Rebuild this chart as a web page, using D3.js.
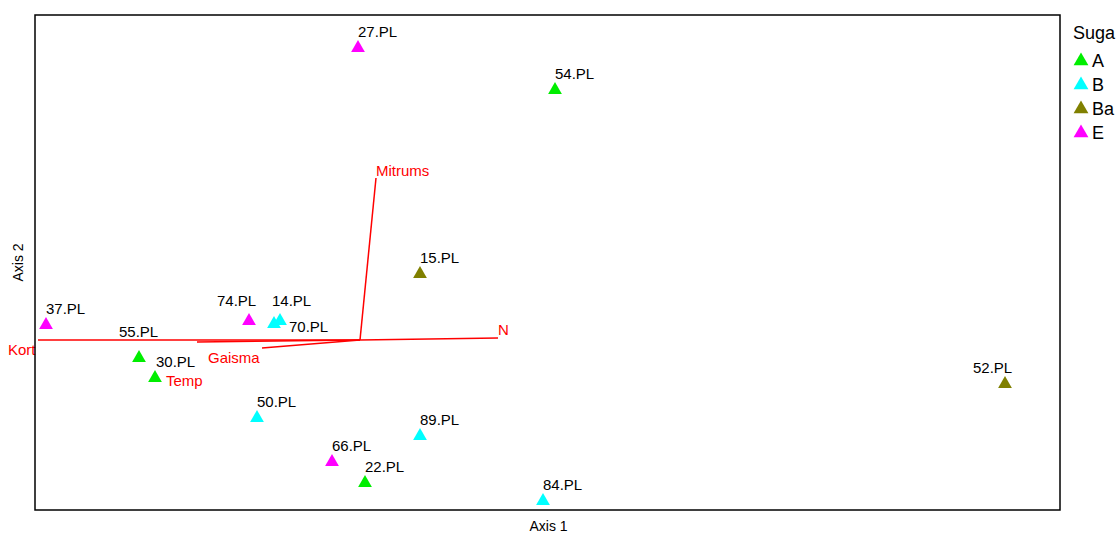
<!DOCTYPE html>
<html>
<head>
<meta charset="utf-8">
<script src="https://cdn.jsdelivr.net/npm/d3@7"></script>
<style>
  body { margin: 0; background: #fff; }
  svg { font-family: "Liberation Sans", Arial, sans-serif; }
</style>
</head>
<body>
<svg id="chart" width="1120" height="533"></svg>
<script>
// sample scores (axis 1, axis 2) and group
const sampleNames = ["27.PL", "54.PL", "15.PL", "37.PL", "74.PL", "14.PL", "70.PL", "55.PL",
                     "30.PL", "50.PL", "89.PL", "66.PL", "22.PL", "84.PL", "52.PL"];
const axis1 = [-0.004, 0.39, 0.12, -0.628, -0.222, -0.16, -0.172, -0.442,
               -0.41, -0.206, 0.12, -0.056, 0.01, 0.366, 1.29];
const axis2 = [0.586, 0.502, 0.134, 0.032, 0.04, 0.04, 0.034, -0.034,
               -0.074, -0.154, -0.19, -0.242, -0.284, -0.32, -0.086];
const groups = ["E", "A", "Ba", "E", "E", "B", "B", "A",
                "A", "B", "B", "E", "A", "B", "Ba"];

// environmental vectors
const vecNames = ["Kort", "Temp", "Gaisma", "N", "Mitrums"];
const vecX = [-0.644, -0.326, -0.196, 0.276, 0.032];
const vecY = [0, -0.004, -0.016, 0.004, 0.324];

const groupNames = ["A", "B", "Ba", "E"];
const groupColors = ["#00ee00", "#00ffff", "#808000", "#ff00ff"];

// label nudges (px) where labels were pushed away from the default spot
const labelNudge = {
  "74.PL": [-32, -4], "14.PL": [-8, -4], "70.PL": [15, 19],
  "55.PL": [-20, -10], "30.PL": [1, 0], "52.PL": [-32, 0]
};
const vecNudge = {
  "Kort": [-30, 15], "Temp": [-31, 44], "Gaisma": [-54, 15], "N": [0, -3], "Mitrums": [0, -2]
};

const svg = d3.select("#chart");
const plotL = 35, plotR = 1060, plotT = 15, plotB = 510;

const x = d3.scaleLinear().domain([-0.65, 1.4]).range([plotL, plotR]);
const y = d3.scaleLinear().domain([-0.34, 0.65]).range([plotB, plotT]);
const color = d3.scaleOrdinal().domain(groupNames).range(groupColors);
const tri = d3.symbol().type(d3.symbolTriangle).size(82);

const samples = sampleNames.map((n, i) => ({ name: n, x: axis1[i], y: axis2[i], g: groups[i] }));
const vectors = vecNames.map((n, i) => ({ name: n, x: vecX[i], y: vecY[i] }));

// vectors
svg.append("g").selectAll("line")
  .data(vectors)
  .join("line")
  .attr("x1", x(0)).attr("y1", y(0))
  .attr("x2", d => x(d.x)).attr("y2", d => y(d.y))
  .attr("stroke", "#ff0000")
  .attr("stroke-width", 1.5);

svg.append("g").selectAll("text")
  .data(vectors)
  .join("text")
  .attr("x", d => x(d.x) + vecNudge[d.name][0])
  .attr("y", d => y(d.y) + vecNudge[d.name][1])
  .attr("fill", "#ff0000")
  .attr("font-size", 15)
  .text(d => d.name);

// points
svg.append("g").selectAll("path")
  .data(samples)
  .join("path")
  .attr("d", tri)
  .attr("transform", d => `translate(${x(d.x)},${y(d.y) + 1})`)
  .attr("fill", d => color(d.g));

svg.append("g").selectAll("text")
  .data(samples)
  .join("text")
  .attr("x", d => x(d.x) + (labelNudge[d.name] ? labelNudge[d.name][0] : 0))
  .attr("y", d => y(d.y) - 10 + (labelNudge[d.name] ? labelNudge[d.name][1] : 0))
  .attr("font-size", 15)
  .attr("fill", "#000")
  .text(d => d.name);

// frame
svg.append("rect")
  .attr("x", plotL).attr("y", plotT)
  .attr("width", plotR - plotL).attr("height", plotB - plotT)
  .attr("fill", "none")
  .attr("stroke", "#000")
  .attr("stroke-width", 1.5);

// axis titles
svg.append("text")
  .attr("x", (plotL + plotR) / 2 + 1).attr("y", 531)
  .attr("text-anchor", "middle")
  .attr("font-size", 14)
  .text("Axis 1");
svg.append("text")
  .attr("transform", `translate(23,${(plotT + plotB) / 2}) rotate(-90)`)
  .attr("text-anchor", "middle")
  .attr("font-size", 14)
  .text("Axis 2");

// legend
const legend = svg.append("g").attr("transform", "translate(1073,0)");
legend.append("text")
  .attr("x", 0).attr("y", 39)
  .attr("font-size", 18)
  .text("Suga");
const items = legend.selectAll("g.item")
  .data(groupNames)
  .join("g")
  .attr("class", "item")
  .attr("transform", (d, i) => `translate(0,${61 + i * 24})`);
items.append("path")
  .attr("d", d3.symbol().type(d3.symbolTriangle).size(95))
  .attr("transform", "translate(8,0)")
  .attr("fill", d => color(d));
items.append("text")
  .attr("x", 19).attr("y", 6)
  .attr("font-size", 18)
  .text(d => d);
</script>
</body>
</html>
